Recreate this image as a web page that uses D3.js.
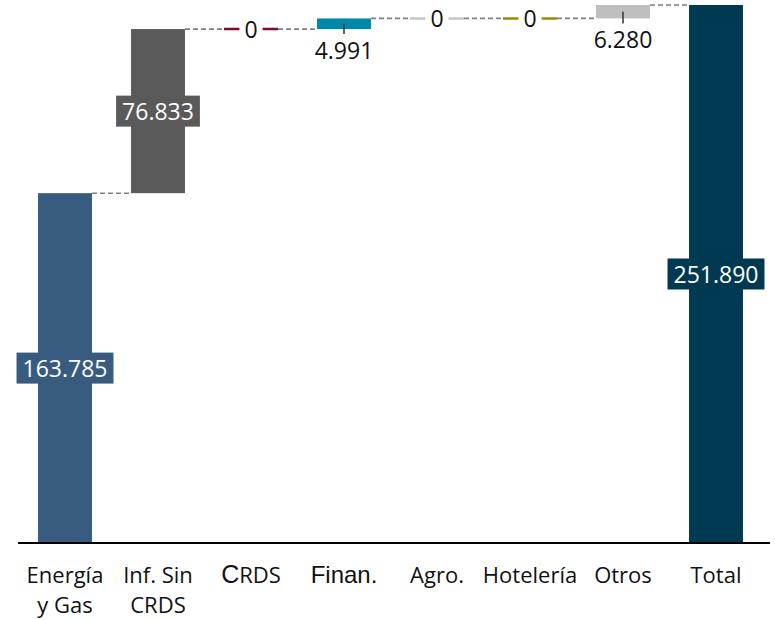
<!DOCTYPE html>
<html>
<head>
<meta charset="utf-8">
<script src="https://cdn.jsdelivr.net/npm/d3@7"></script>
<style>
  html, body { margin: 0; padding: 0; background: #fff; }
  svg { display: block; }
  .cat { font-family: "Open Sans", "Noto Sans", sans-serif; font-size: 22px; fill: #111; }
  .val { font-family: "Open Sans", "Noto Sans", sans-serif; font-size: 23px; }
</style>
</head>
<body>
<div id="chart"></div>
<script>
// ── Data ─────────────────────────────────────────────
const categories = ["Energía y Gas", "Inf. Sin CRDS", "CRDS", "Finan.", "Agro.", "Hotelería", "Otros", "Total"];
const labelLines = [["Energía", "y Gas"], ["Inf. Sin", "CRDS"], ["CRDS"], ["Finan."], ["Agro."], ["Hotelería"], ["Otros"], ["Total"]];
const values     = [163785, 76833, 0, 4991, 0, 0, 6280, 251890];
const isTotal    = [false, false, false, false, false, false, false, true];
const barColors  = ["#385c80", "#5a5a5a", "#7a0c2a", "#0088a8", "#c6c6c6", "#9c8a00", "#bfbfbf", "#003a52"];

const W = 775, H = 620;
const BASE_Y = 543;

// running totals -> start / end of each bar
let running = 0;
const bars = categories.map((c, i) => {
  let start, end;
  if (isTotal[i]) { start = 0; end = values[i]; running = values[i]; }
  else { start = running; end = running + values[i]; running = end; }
  return { cat: c, i, value: values[i], start, end };
});

const svg = d3.select('#chart').append('svg')
  .attr('width', W).attr('height', H);

const x = d3.scaleBand()
  .domain(categories)
  .range([18.5, 762.5])
  .paddingInner(0.42)
  .paddingOuter(0.21);

const y = d3.scaleLinear()
  .domain([0, d3.max(values)])
  .range([BASE_Y, 5]);

const fmt = v => d3.format(',')(v).replace(/,/g, '.');

// ── Connectors ───────────────────────────────────────
const conn = svg.append('g');
bars.slice(0, -1).forEach((b, k) => {
  const nb = bars[k + 1];
  conn.append('line')
    .attr('x1', x(b.cat) + x.bandwidth())
    .attr('x2', x(nb.cat))
    .attr('y1', y(b.end)).attr('y2', y(b.end))
    .attr('stroke', '#7f7f7f')
    .attr('stroke-width', 1.6)
    .attr('stroke-dasharray', '5,3');
});

// ── Bars ─────────────────────────────────────────────
const g = svg.append('g');
bars.forEach(b => {
  const x0 = x(b.cat), bw = x.bandwidth();
  if (b.value === 0) {
    g.append('line')
      .attr('x1', x0).attr('x2', x0 + bw)
      .attr('y1', y(b.end)).attr('y2', y(b.end))
      .attr('stroke', barColors[b.i]).attr('stroke-width', 2.5);
  } else {
    g.append('rect')
      .attr('x', x0)
      .attr('y', y(Math.max(b.start, b.end)))
      .attr('width', bw)
      .attr('height', Math.abs(y(b.start) - y(b.end)))
      .attr('fill', barColors[b.i]);
  }
});

// ── Value labels ─────────────────────────────────────
const lab = svg.append('g');
bars.forEach(b => {
  const cx = x(b.cat) + x.bandwidth() / 2;
  const top = y(b.end), bottom = y(b.start);
  const h = Math.abs(bottom - top);
  if (b.value === 0) {
    // zero bar: label sits on the line with a white gap
    const bg = lab.append('rect').attr('fill', '#fff');
    const t = lab.append('text').attr('class', 'val')
      .attr('x', cx).attr('y', top)
      .attr('text-anchor', 'middle').attr('dominant-baseline', 'central')
      .attr('fill', '#111').text('0');
    const tw = t.node().getComputedTextLength();
    bg.attr('x', cx - tw / 2 - 5).attr('y', top - 3).attr('width', tw + 10).attr('height', 6);
  } else if (h < 40) {
    // small bar: leader tick + label below
    lab.append('line')
      .attr('x1', cx).attr('x2', cx)
      .attr('y1', (top + bottom) / 2).attr('y2', bottom + 5)
      .attr('stroke', '#333').attr('stroke-width', 1.5);
    lab.append('text').attr('class', 'val')
      .attr('x', cx).attr('y', bottom + 30)
      .attr('text-anchor', 'middle').attr('fill', '#111')
      .text(fmt(b.value));
  } else {
    const my = (top + bottom) / 2;
    const bg = lab.append('rect').attr('fill', barColors[b.i]);
    const t = lab.append('text').attr('class', 'val')
      .attr('x', cx).attr('y', my)
      .attr('text-anchor', 'middle').attr('dominant-baseline', 'central')
      .attr('fill', '#fff').text(fmt(b.value));
    const tw = t.node().getComputedTextLength();
    bg.attr('x', cx - tw / 2 - 6).attr('y', my - 15.5).attr('width', tw + 12).attr('height', 31);
  }
});

// ── Axis ─────────────────────────────────────────────
svg.append('line')
  .attr('x1', 18).attr('x2', 770)
  .attr('y1', BASE_Y).attr('y2', BASE_Y)
  .attr('stroke', '#000').attr('stroke-width', 2);

const axisG = svg.append('g').attr('transform', `translate(0,${BASE_Y})`)
  .call(d3.axisBottom(x).tickSize(0).tickFormat(''));
axisG.select('.domain').remove();

labelLines.forEach((lines, i) => {
  const cx = x(categories[i]) + x.bandwidth() / 2;
  lines.forEach((ln, j) => {
    const t = svg.append('text').attr('class', 'cat')
      .attr('x', cx).attr('y', 583 + j * 30)
      .attr('text-anchor', 'middle');
    if (ln === 'Finan.') {
      t.style('font-family', '"Liberation Sans", Arial, sans-serif').style('font-size', '24px').text(ln);
    } else if (ln === 'CRDS' && j === 0) {
      t.append('tspan').style('font-family', '"Liberation Sans", Arial, sans-serif').style('font-size', '25px').text('C');
      t.append('tspan').text('RDS');
    } else {
      t.text(ln);
    }
  });
});
</script>
</body>
</html>
